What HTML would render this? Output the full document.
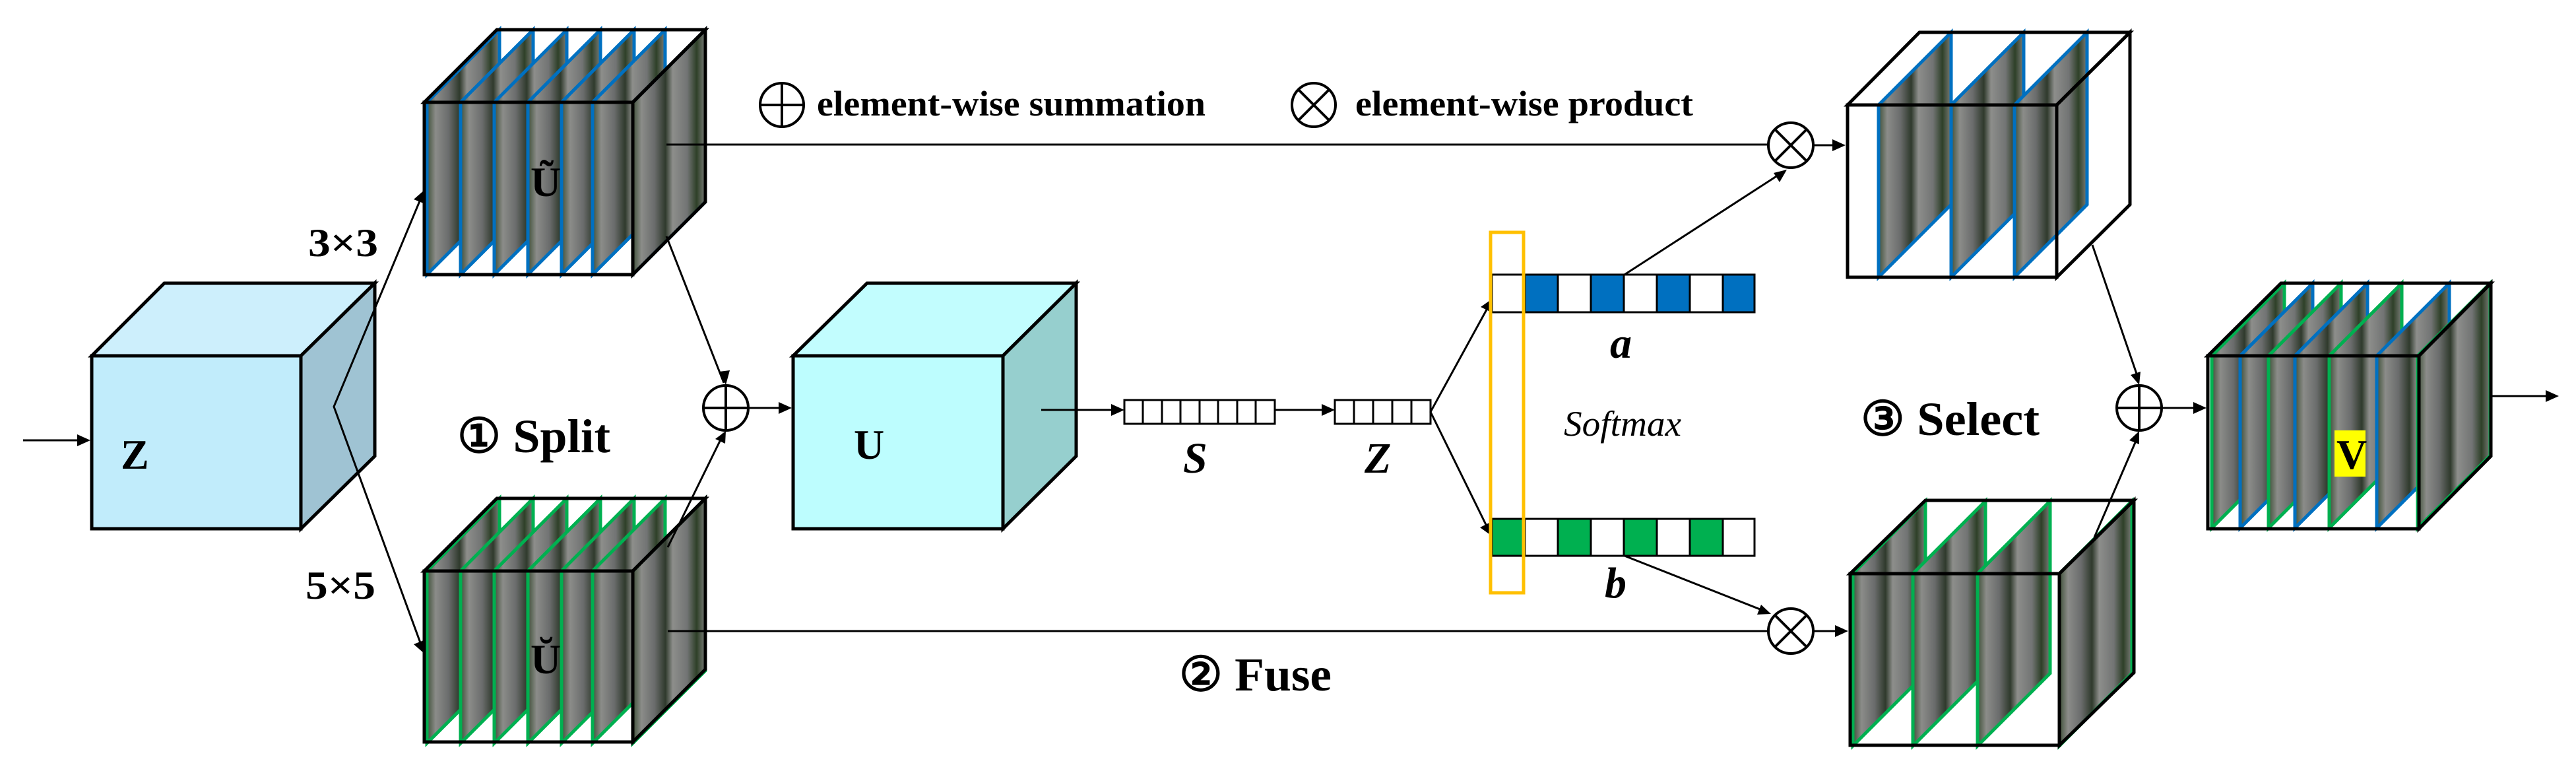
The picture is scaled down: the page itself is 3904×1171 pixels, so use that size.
<!DOCTYPE html>
<html><head><meta charset="utf-8"><style>
html,body{margin:0;padding:0;background:#fff;}
svg{display:block;}
svg text{font-family:"Liberation Serif","Times New Roman",serif;font-weight:bold;fill:#000;}
</style></head><body>
<svg width="3904" height="1171" viewBox="0 0 3904 1171" xmlns="http://www.w3.org/2000/svg" font-family="Liberation Serif, serif">
<defs>
<linearGradient id="img" x1="0" y1="0" x2="1" y2="0">
<stop offset="0" stop-color="#3f5038"/>
<stop offset="0.12" stop-color="#8b8c89"/>
<stop offset="0.3" stop-color="#6a6c6c"/>
<stop offset="0.45" stop-color="#2f3a2c"/>
<stop offset="0.55" stop-color="#8d8e8b"/>
<stop offset="0.75" stop-color="#727474"/>
<stop offset="0.88" stop-color="#2e4028"/>
<stop offset="1" stop-color="#7b7d79"/>
</linearGradient>
<polygon id="sl" points="0,0 110,-110 110,151 0,261"/>
</defs>

<!-- input arrow -->
<line x1="35" y1="667" x2="120" y2="667" stroke="#000" stroke-width="3"/>
<polygon points="137,667 117,658 117,676" fill="#000"/>

<!-- Z cube -->
<polygon points="139,539 249,429 568,429 456,539" fill="#cdeffc" stroke="#000" stroke-width="5"/>
<polygon points="456,539 568,429 568,691 456,801" fill="#9fc3d3" stroke="#000" stroke-width="5"/>
<rect x="139" y="539" width="317" height="262" fill="#c1ecfb" stroke="#000" stroke-width="5"/>
<text x="183" y="710" font-size="64">Z</text>

<!-- split arrows -->
<polyline points="643,288 506,616 643,990" fill="none" stroke="#000" stroke-width="3"/>
<polygon points="643,288 627,302 642,308" fill="#000"/>
<polygon points="643,990 642,970 627,976" fill="#000"/>
<text x="467" y="388" font-size="60" textLength="106" lengthAdjust="spacingAndGlyphs">3×3</text>
<text x="463" y="907" font-size="60" textLength="106" lengthAdjust="spacingAndGlyphs">5×5</text>

<!-- top cube (blue) -->
<g fill="url(#img)" stroke="#0070c0" stroke-width="5">
<use href="#sl" x="647" y="155"/><use href="#sl" x="698" y="155"/><use href="#sl" x="749" y="155"/>
<use href="#sl" x="800" y="155"/><use href="#sl" x="851" y="155"/><use href="#sl" x="898" y="155"/>
<use href="#sl" x="959" y="155"/>
</g>
<polygon points="643,155 753,45 1069,45 959,155" fill="none" stroke="#000" stroke-width="5"/>
<polygon points="959,155 1069,45 1069,306 959,416" fill="none" stroke="#000" stroke-width="5"/>
<rect x="643" y="155" width="316" height="261" fill="none" stroke="#000" stroke-width="5"/>
<text x="804" y="297" font-size="64">Ũ</text>

<!-- bottom cube (green) -->
<g fill="url(#img)" stroke="#00b050" stroke-width="5">
<use href="#sl" x="647" y="865"/><use href="#sl" x="698" y="865"/><use href="#sl" x="749" y="865"/>
<use href="#sl" x="800" y="865"/><use href="#sl" x="851" y="865"/><use href="#sl" x="898" y="865"/>
<use href="#sl" x="959" y="865"/>
</g>
<polygon points="643,865 753,755 1069,755 959,865" fill="none" stroke="#000" stroke-width="5"/>
<polygon points="959,865 1069,755 1069,1014 959,1124" fill="none" stroke="#000" stroke-width="5"/>
<rect x="643" y="865" width="316" height="259" fill="none" stroke="#000" stroke-width="5"/>
<text x="804" y="1020" font-size="64">Ŭ</text>

<text x="693" y="685" font-size="72" textLength="232" lengthAdjust="spacingAndGlyphs">① Split</text>

<!-- sum circle left -->
<line x1="1010" y1="358" x2="1097" y2="580" stroke="#000" stroke-width="3"/>
<polygon points="1100,583 1090,563 1106,561" fill="#000"/>
<line x1="1012" y1="829" x2="1097" y2="656" stroke="#000" stroke-width="3"/>
<polygon points="1100,653 1084,665 1099,672" fill="#000"/>
<circle cx="1100" cy="618" r="34" fill="#fff" stroke="#000" stroke-width="4"/>
<line x1="1066" y1="618" x2="1134" y2="618" stroke="#000" stroke-width="4"/>
<line x1="1100" y1="584" x2="1100" y2="652" stroke="#000" stroke-width="4"/>
<line x1="1134" y1="618" x2="1182" y2="618" stroke="#000" stroke-width="3"/>
<polygon points="1200,618 1180,609 1180,627" fill="#000"/>

<!-- horizontal long lines -->
<line x1="1010" y1="219" x2="2680" y2="219" stroke="#000" stroke-width="3"/>
<line x1="1012" y1="956" x2="2680" y2="956" stroke="#000" stroke-width="3"/>

<!-- legend -->
<circle cx="1185" cy="159" r="33" fill="none" stroke="#000" stroke-width="4"/>
<line x1="1152" y1="159" x2="1218" y2="159" stroke="#000" stroke-width="4"/>
<line x1="1185" y1="126" x2="1185" y2="192" stroke="#000" stroke-width="4"/>
<text x="1238" y="175" font-size="54" textLength="589" lengthAdjust="spacingAndGlyphs">element-wise summation</text>
<circle cx="1991" cy="159" r="33" fill="none" stroke="#000" stroke-width="4"/>
<line x1="1968" y1="136" x2="2014" y2="182" stroke="#000" stroke-width="4"/>
<line x1="2014" y1="136" x2="1968" y2="182" stroke="#000" stroke-width="4"/>
<text x="2054" y="175" font-size="54" textLength="512" lengthAdjust="spacingAndGlyphs">element-wise product</text>

<!-- U cube -->
<polygon points="1202,539 1314,429 1631,429 1520,539" fill="#c2fdfe" stroke="#000" stroke-width="5"/>
<polygon points="1520,539 1631,429 1631,691 1520,801" fill="#96cfce" stroke="#000" stroke-width="5"/>
<rect x="1202" y="539" width="318" height="262" fill="#bdfdfe" stroke="#000" stroke-width="5"/>
<text x="1294" y="695" font-size="64">U</text>

<!-- S and Z vectors -->
<line x1="1578" y1="621" x2="1686" y2="621" stroke="#000" stroke-width="3"/>
<polygon points="1704,621 1684,612 1684,630" fill="#000"/>
<rect x="1704" y="606" width="228" height="36" fill="#fff" stroke="#000" stroke-width="3"/>
<g stroke="#000" stroke-width="3">
<line x1="1732" y1="606" x2="1732" y2="642"/><line x1="1761" y1="606" x2="1761" y2="642"/>
<line x1="1789" y1="606" x2="1789" y2="642"/><line x1="1818" y1="606" x2="1818" y2="642"/>
<line x1="1846" y1="606" x2="1846" y2="642"/><line x1="1875" y1="606" x2="1875" y2="642"/>
<line x1="1903" y1="606" x2="1903" y2="642"/>
</g>
<line x1="1932" y1="621" x2="2005" y2="621" stroke="#000" stroke-width="3"/>
<polygon points="2023,621 2003,612 2003,630" fill="#000"/>
<rect x="2023" y="606" width="145" height="36" fill="#fff" stroke="#000" stroke-width="3"/>
<g stroke="#000" stroke-width="3">
<line x1="2052" y1="606" x2="2052" y2="642"/><line x1="2081" y1="606" x2="2081" y2="642"/>
<line x1="2110" y1="606" x2="2110" y2="642"/><line x1="2139" y1="606" x2="2139" y2="642"/>
</g>
<text x="1793" y="716" font-size="66" font-style="italic">S</text>
<text x="2068" y="716" font-size="66" font-style="italic">Z</text>

<!-- branches to a,b -->
<polyline points="2258,460 2168,624 2258,807" fill="none" stroke="#000" stroke-width="3"/>
<polygon points="2261,453 2244,465 2258,472" fill="#000"/>
<polygon points="2261,812 2257,792 2243,799" fill="#000"/>

<!-- a bar -->
<g stroke="#000" stroke-width="3">
<rect x="2261" y="416" width="50" height="57" fill="#fff"/>
<rect x="2311" y="416" width="50" height="57" fill="#0070c0"/>
<rect x="2361" y="416" width="50" height="57" fill="#fff"/>
<rect x="2411" y="416" width="50" height="57" fill="#0070c0"/>
<rect x="2461" y="416" width="50" height="57" fill="#fff"/>
<rect x="2511" y="416" width="50" height="57" fill="#0070c0"/>
<rect x="2561" y="416" width="50" height="57" fill="#fff"/>
<rect x="2611" y="416" width="48" height="57" fill="#0070c0"/>
</g>
<!-- b bar -->
<g stroke="#000" stroke-width="3">
<rect x="2261" y="786" width="50" height="56" fill="#00b050"/>
<rect x="2311" y="786" width="50" height="56" fill="#fff"/>
<rect x="2361" y="786" width="50" height="56" fill="#00b050"/>
<rect x="2411" y="786" width="50" height="56" fill="#fff"/>
<rect x="2461" y="786" width="50" height="56" fill="#00b050"/>
<rect x="2511" y="786" width="50" height="56" fill="#fff"/>
<rect x="2561" y="786" width="50" height="56" fill="#00b050"/>
<rect x="2611" y="786" width="48" height="56" fill="#fff"/>
</g>
<rect x="2259" y="352" width="50" height="546" fill="none" stroke="#ffc000" stroke-width="5"/>
<text x="2440" y="542" font-size="66" font-style="italic">a</text>
<text x="2432" y="905" font-size="66" font-style="italic">b</text>
<text x="2370" y="660" font-size="54" font-style="italic" style="font-weight:normal" textLength="178" lengthAdjust="spacingAndGlyphs">Softmax</text>

<!-- a -> top product, b -> bottom product -->
<line x1="2462" y1="416" x2="2700" y2="262" stroke="#000" stroke-width="3"/>
<polygon points="2708,257 2688,262 2697,276" fill="#000"/>
<line x1="2462" y1="842" x2="2675" y2="926" stroke="#000" stroke-width="3"/>
<polygon points="2684,930 2669,916 2663,931" fill="#000"/>

<!-- product circles -->
<circle cx="2714" cy="220" r="34" fill="#fff" stroke="#000" stroke-width="4"/>
<line x1="2690" y1="196" x2="2738" y2="244" stroke="#000" stroke-width="4"/>
<line x1="2738" y1="196" x2="2690" y2="244" stroke="#000" stroke-width="4"/>
<line x1="2748" y1="220" x2="2780" y2="220" stroke="#000" stroke-width="3"/>
<polygon points="2797,220 2777,211 2777,229" fill="#000"/>
<circle cx="2714" cy="956" r="34" fill="#fff" stroke="#000" stroke-width="4"/>
<line x1="2690" y1="932" x2="2738" y2="980" stroke="#000" stroke-width="4"/>
<line x1="2738" y1="932" x2="2690" y2="980" stroke="#000" stroke-width="4"/>
<line x1="2748" y1="956" x2="2783" y2="956" stroke="#000" stroke-width="3"/>
<polygon points="2801,956 2781,947 2781,965" fill="#000"/>

<text x="1787" y="1046" font-size="72" textLength="231" lengthAdjust="spacingAndGlyphs">② Fuse</text>

<!-- top right cube -->
<g fill="url(#img)" stroke="#0070c0" stroke-width="5">
<use href="#sl" x="2847" y="159"/><use href="#sl" x="2957" y="159"/><use href="#sl" x="3053" y="159"/>
</g>
<polygon points="2800,159 2909,49 3228,49 3117,159" fill="none" stroke="#000" stroke-width="5"/>
<polygon points="3117,159 3228,49 3228,310 3117,420" fill="none" stroke="#000" stroke-width="5"/>
<rect x="2800" y="159" width="317" height="261" fill="none" stroke="#000" stroke-width="5"/>

<!-- bottom right cube -->
<g fill="url(#img)" stroke="#00b050" stroke-width="5">
<use href="#sl" x="2808" y="869"/><use href="#sl" x="2899" y="869"/><use href="#sl" x="2997" y="869"/>
<use href="#sl" x="3121" y="869"/>
</g>
<polygon points="2804,869 2918,758 3234,758 3121,869" fill="none" stroke="#000" stroke-width="5"/>
<polygon points="3121,869 3234,758 3234,1019 3121,1129" fill="none" stroke="#000" stroke-width="5"/>
<rect x="2804" y="869" width="317" height="260" fill="none" stroke="#000" stroke-width="5"/>

<text x="2820" y="659" font-size="72" textLength="271" lengthAdjust="spacingAndGlyphs">③ Select</text>

<!-- right sum -->
<line x1="3171" y1="371" x2="3238" y2="566" stroke="#000" stroke-width="3"/>
<polygon points="3242,583 3244,563 3229,568" fill="#000"/>
<line x1="3174" y1="814" x2="3237" y2="668" stroke="#000" stroke-width="3"/>
<polygon points="3242,653 3227,667 3242,673" fill="#000"/>
<circle cx="3242" cy="618" r="34" fill="#fff" stroke="#000" stroke-width="4"/>
<line x1="3208" y1="618" x2="3276" y2="618" stroke="#000" stroke-width="4"/>
<line x1="3242" y1="584" x2="3242" y2="652" stroke="#000" stroke-width="4"/>
<line x1="3276" y1="618" x2="3326" y2="618" stroke="#000" stroke-width="3"/>
<polygon points="3344,618 3324,609 3324,627" fill="#000"/>

<!-- V cube -->
<g fill="url(#img)" stroke-width="5">
<use href="#sl" x="3352" y="539" stroke="#00b050"/>
<use href="#sl" x="3395" y="539" stroke="#0070c0"/>
<use href="#sl" x="3438" y="539" stroke="#00b050"/>
<use href="#sl" x="3478" y="539" stroke="#0070c0"/>
<use href="#sl" x="3530" y="539" stroke="#00b050"/>
<use href="#sl" x="3602" y="539" stroke="#0070c0"/>
<use href="#sl" x="3664" y="539" stroke="#00b050"/>
</g>
<polygon points="3346,539 3457,429 3775,429 3666,539" fill="none" stroke="#000" stroke-width="5"/>
<polygon points="3666,539 3775,429 3775,691 3666,801" fill="none" stroke="#000" stroke-width="5"/>
<rect x="3346" y="539" width="320" height="262" fill="none" stroke="#000" stroke-width="5"/>
<rect x="3538" y="652" width="47" height="70" fill="#ffff00"/>
<text x="3541" y="710" font-size="64">V</text>
<line x1="3775" y1="600" x2="3860" y2="600" stroke="#000" stroke-width="3"/>
<polygon points="3878,600 3858,591 3858,609" fill="#000"/>
</svg>
</body></html>
